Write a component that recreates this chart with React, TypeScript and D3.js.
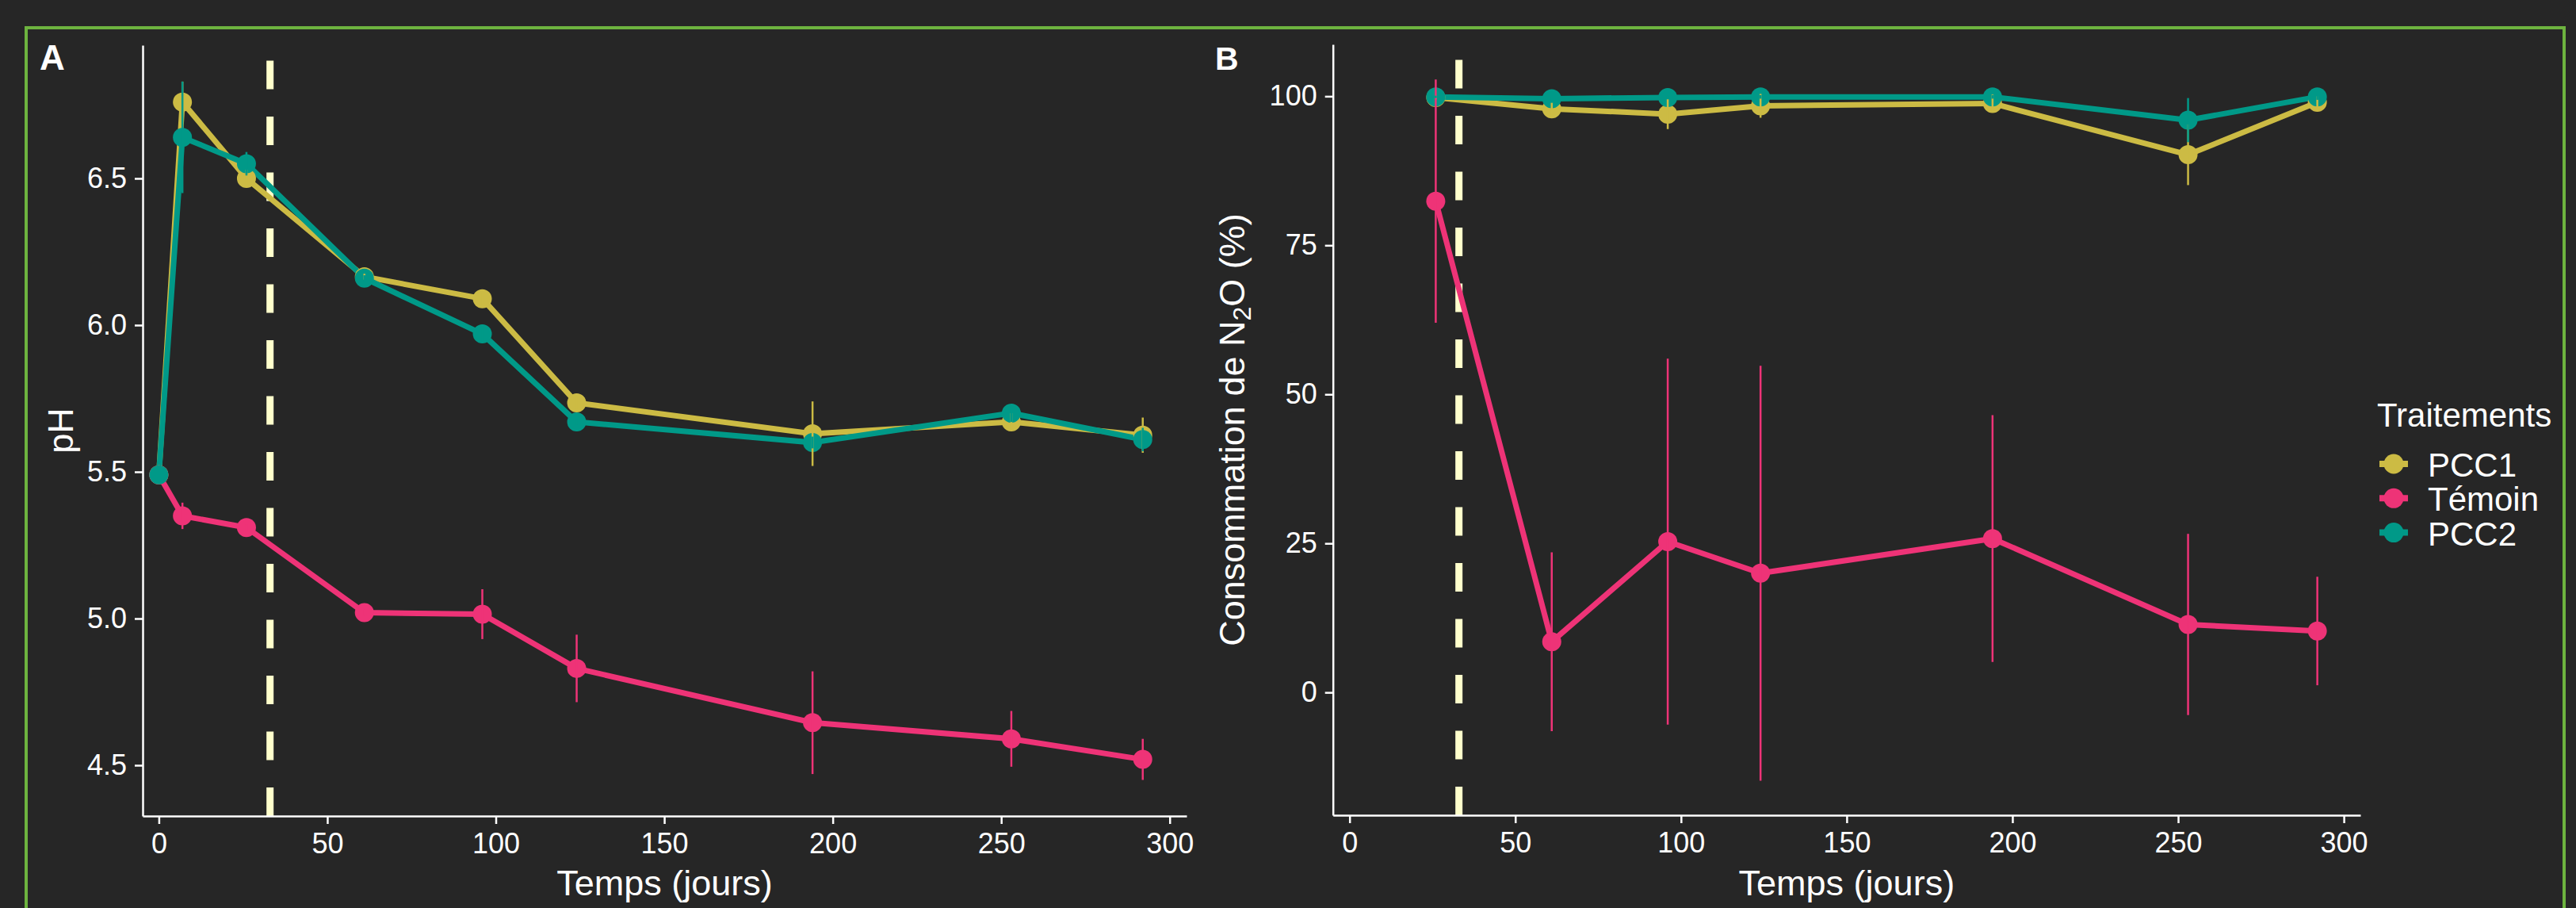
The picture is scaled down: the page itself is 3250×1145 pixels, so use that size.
import React, { useEffect, useRef } from 'react'
import * as d3 from 'd3'

// sampling days
const daysA = [0, 7, 26, 61, 96, 124, 194, 253, 292]
const daysB = [26, 61, 96, 124, 194, 253, 292]
const cutDay = 33

// panel A : pH
const phPCC1 = [5.49, 6.76, 6.5, 6.165, 6.09, 5.735, 5.63, 5.67, 5.625]
const phPCC1Err = [0, 0.07, 0.03, 0.01, 0.02, 0.02, 0.11, 0.03, 0.06]
const phTemoin = [5.49, 5.35, 5.31, 5.02, 5.015, 4.83, 4.645, 4.59, 4.52]
const phTemoinErr = [0, 0.045, 0.01, 0.01, 0.085, 0.115, 0.175, 0.095, 0.07]
const phPCC2 = [5.49, 6.64, 6.55, 6.16, 5.97, 5.67, 5.6, 5.7, 5.61]
const phPCC2Err = [0, 0.19, 0.04, 0.01, 0.03, 0.01, 0.02, 0.03, 0.04]

// panel B : consommation de N2O (%)
const n2oPCC1 = [99.8, 97.9, 97.0, 98.4, 98.8, 90.2, 99.0]
const n2oPCC1Err = [0.3, 1.0, 2.5, 2.0, 1.5, 5.1, 1.0]
const n2oTemoin = [82.4, 8.5, 25.3, 20.0, 25.8, 11.4, 10.3]
const n2oTemoinErr = [20.4, 15.0, 30.7, 34.8, 20.7, 15.2, 9.1]
const n2oPCC2 = [99.9, 99.6, 99.8, 99.9, 99.9, 96.0, 99.9]
const n2oPCC2Err = [0.2, 0.4, 0.3, 0.3, 0.3, 3.7, 0.5]

const xTicks = [0, 50, 100, 150, 200, 250, 300]
const phTicks = [4.5, 5.0, 5.5, 6.0, 6.5]
const n2oTicks = [0, 25, 50, 75, 100]

const treatments = ['PCC1', 'Témoin', 'PCC2']
const colors = ['#CCBB44', '#EE3377', '#009988']

const FONT = '"Liberation Sans", Arial, Helvetica, sans-serif'
const BG = '#262626'
const FG = '#FFFFFF'

interface Series {
  name: string
  color: string
  values: number[]
  errs: number[]
}

type G = d3.Selection<SVGGElement, unknown, null, undefined>

const drawPanel = (
  g: G,
  days: number[],
  series: Series[],
  x: d3.ScaleLinear<number, number>,
  y: d3.ScaleLinear<number, number>,
  yTicks: number[],
  yFormat: (v: number) => string
) => {
  const [x0, x1] = x.range()
  const [yb, yt] = y.range()

  // vertical dashed line
  g.append('line')
    .attr('x1', x(cutDay))
    .attr('x2', x(cutDay))
    .attr('y1', yb)
    .attr('y2', yt)
    .attr('stroke', '#FFFFCC')
    .attr('stroke-width', 9)
    .attr('stroke-dasharray', '36,34.5')

  const line = d3
    .line<number>()
    .x((_, i) => x(days[i]))
    .y((v) => y(v))

  series.forEach((s) => {
    g.append('path')
      .attr('d', line(s.values) || '')
      .attr('fill', 'none')
      .attr('stroke', s.color)
      .attr('stroke-width', 7)
      .attr('stroke-linejoin', 'round')
  })

  series.forEach((s) => {
    g.selectAll(null)
      .data(s.values)
      .enter()
      .append('circle')
      .attr('cx', (_, i) => x(days[i]))
      .attr('cy', (v) => y(v))
      .attr('r', 12)
      .attr('fill', s.color)
  })

  series.forEach((s) => {
    g.selectAll(null)
      .data(s.values.map((v, i) => ({ v, e: s.errs[i], d: days[i] })).filter((p) => p.e > 0))
      .enter()
      .append('line')
      .attr('x1', (p) => x(p.d))
      .attr('x2', (p) => x(p.d))
      .attr('y1', (p) => y(p.v - p.e))
      .attr('y2', (p) => y(p.v + p.e))
      .attr('stroke', s.color)
      .attr('stroke-width', 2.5)
  })

  const xAxis = g
    .append('g')
    .attr('transform', `translate(0,${yb})`)
    .call(
      d3.axisBottom(x).tickValues(xTicks).tickFormat(d3.format('d')).tickSize(10).tickSizeOuter(0).tickPadding(11)
    )
  const yAxis = g
    .append('g')
    .attr('transform', `translate(${x0},0)`)
    .call(
      d3
        .axisLeft(y)
        .tickValues(yTicks)
        .tickFormat((v) => yFormat(Number(v)))
        .tickSize(10)
        .tickSizeOuter(0)
        .tickPadding(10)
    )

  ;[xAxis, yAxis].forEach((a) => {
    a.select('.domain').attr('stroke', FG).attr('stroke-width', 2.5)
    a.selectAll('.tick line').attr('stroke', FG).attr('stroke-width', 2.5)
    a.selectAll('.tick text').attr('fill', FG).attr('font-size', 36).attr('font-family', FONT)
  })

  // x title
  g.append('text')
    .attr('x', (x0 + x1) / 2)
    .attr('y', 1129)
    .attr('text-anchor', 'middle')
    .attr('fill', FG)
    .attr('font-size', 45)
    .attr('font-family', FONT)
    .text('Temps (jours)')
}

export default function App() {
  const svgRef = useRef<SVGSVGElement>(null)

  useEffect(() => {
    if (!svgRef.current) return
    const width = 3250
    const height = 1145

    const svg = d3.select(svgRef.current)
    svg.selectAll('*').remove()
    svg.attr('width', width).attr('height', height)

    svg.append('rect').attr('width', width).attr('height', height).attr('fill', BG)

    // green frame
    svg
      .append('rect')
      .attr('x', 33)
      .attr('y', 35)
      .attr('width', 3202)
      .attr('height', 1200)
      .attr('fill', 'none')
      .attr('stroke', '#6DB33F')
      .attr('stroke-width', 4)

    const root = svg.append('g')

    // ---- panel A
    const xA = d3.scaleLinear().domain([-4.8, 305]).range([180, 1497])
    const yA = d3.scaleLinear().domain([4.327, 6.954]).range([1029, 57])
    const seriesA: Series[] = [
      { name: treatments[0], color: colors[0], values: phPCC1, errs: phPCC1Err },
      { name: treatments[1], color: colors[1], values: phTemoin, errs: phTemoinErr },
      { name: treatments[2], color: colors[2], values: phPCC2, errs: phPCC2Err },
    ]
    drawPanel(root.append('g'), daysA, seriesA, xA, yA, phTicks, d3.format('.1f'))

    // ---- panel B
    const xB = d3.scaleLinear().domain([-5.02, 305]).range([1681.7, 2978])
    const yB = d3.scaleLinear().domain([-20.6, 108.7]).range([1028, 56])
    const seriesB: Series[] = [
      { name: treatments[0], color: colors[0], values: n2oPCC1, errs: n2oPCC1Err },
      { name: treatments[1], color: colors[1], values: n2oTemoin, errs: n2oTemoinErr },
      { name: treatments[2], color: colors[2], values: n2oPCC2, errs: n2oPCC2Err },
    ]
    drawPanel(root.append('g'), daysB, seriesB, xB, yB, n2oTicks, d3.format('d'))

    // panel tags
    root.append('text').attr('x', 50).attr('y', 88).text('A')
      .attr('fill', FG).attr('font-size', 44).attr('font-weight', 'bold').attr('font-family', FONT)
    root.append('text').attr('x', 1533).attr('y', 88).text('B')
      .attr('fill', FG).attr('font-size', 41).attr('font-weight', 'bold').attr('font-family', FONT)

    // y titles
    root.append('text')
      .attr('transform', `translate(92,${(57 + 1029) / 2}) rotate(-90)`)
      .attr('text-anchor', 'middle')
      .attr('fill', FG)
      .attr('font-size', 45)
      .attr('font-family', FONT)
      .text('pH')

    const tB = root.append('text')
      .attr('transform', `translate(1570,${(56 + 1028) / 2}) rotate(-90)`)
      .attr('text-anchor', 'middle')
      .attr('fill', FG)
      .attr('font-size', 45)
      .attr('font-family', FONT)
    tB.append('tspan').text('Consommation de N')
    tB.append('tspan').attr('font-size', 32).attr('dy', 8).text('2')
    tB.append('tspan').attr('dy', -8).text('O (%)')

    // legend
    const leg = root.append('g')
    leg.append('text').attr('x', 2999).attr('y', 538).text('Traitements')
      .attr('fill', FG).attr('font-size', 42).attr('font-family', FONT)
    treatments.forEach((t, i) => {
      const cy = 585 + i * 43.3
      leg.append('line').attr('x1', 3002).attr('x2', 3038).attr('y1', cy).attr('y2', cy)
        .attr('stroke', colors[i]).attr('stroke-width', 8)
      leg.append('circle').attr('cx', 3020).attr('cy', cy).attr('r', 12.5).attr('fill', colors[i])
      leg.append('text').attr('x', 3063).attr('y', cy + 16).text(t)
        .attr('fill', FG).attr('font-size', 42).attr('font-family', FONT)
    })
  }, [])

  return (
    <div style={{ position: 'absolute', left: 0, top: 0, lineHeight: 0 }}>
      <svg ref={svgRef} width={3250} height={1145} />
    </div>
  )
}
